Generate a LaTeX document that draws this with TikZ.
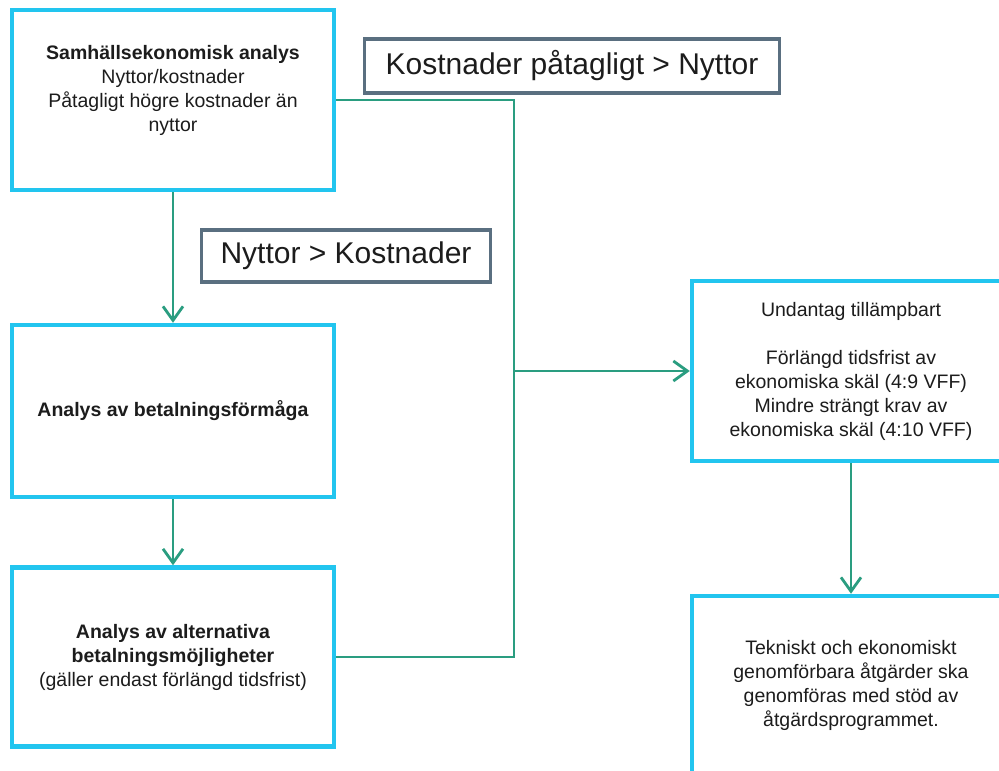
\documentclass[tikz,border=0pt]{standalone}
\usepackage{fontspec}
\setmainfont{Liberation Sans}
\usetikzlibrary{arrows.meta}
\definecolor{boxcyan}{HTML}{22C5EF}
\definecolor{flowgreen}{HTML}{2A9D80}
\definecolor{tagslate}{HTML}{5A6F80}
\definecolor{inkgray}{HTML}{1C1C1C}

\begin{document}
\begin{tikzpicture}[x=1pt,y=-1pt,
                    box/.style={rectangle,draw=boxcyan,line width=4.5pt,fill=white,align=center,
                                text=inkgray,font=\fontsize{19.5}{24}\selectfont,inner sep=0pt},
                    tag/.style={rectangle,draw=tagslate,line width=3.5pt,fill=white,
                                text=inkgray,font=\fontsize{30}{36}\selectfont,inner sep=0pt},
                    flow/.style={draw=flowgreen,line width=2.8pt},
                    >={Straight Barb[length=14pt,width=20pt]}]
    \clip (0,0) rectangle (999,771);
    \fill [white] (0,0) rectangle (999,771);
    % left column
    \node (samh) at (173,100) [box,minimum width=322pt,minimum height=180pt]
          {\textbf{Samhällsekonomisk analys}\\Nyttor/kostnader\\Påtagligt högre kostnader än\\nyttor\\ ~};
    \node (betal) at (173,411) [box,minimum width=322pt,minimum height=172pt]
          {\textbf{Analys av betalningsförmåga}};
    \node (alt) at (173,657) [box,minimum width=322pt,minimum height=179pt]
          {\textbf{Analys av alternativa}\\\textbf{betalningsmöjligheter}\\(gäller endast förlängd tidsfrist)};
    % right column
    \node (undantag) at (851,371) [box,minimum width=318pt,minimum height=180pt]
          {Undantag tillämpbart\\[24pt]Förlängd tidsfrist av\\ekonomiska skäl (4:9 VFF)\\Mindre strängt krav av\\ekonomiska skäl (4:10 VFF)};
    \node (tekn) at (851,685) [box,minimum width=318pt,minimum height=178pt]
          {Tekniskt och ekonomiskt\\genomförbara åtgärder ska\\genomföras med stöd av\\åtgärdsprogrammet.};
    % decisions
    \node (merkost) at (572,66) [tag,minimum width=415pt,minimum height=54pt] {Kostnader påtagligt > Nyttor};
    \node (mernytta) at (346,256) [tag,minimum width=289pt,minimum height=52pt] {Nyttor > Kostnader};
    \coordinate (jn) at (514,371);

    \draw [flow,->] (samh) to (betal);
    \draw [flow,->] (betal) to (alt);
    \draw [flow] (samh.east) -| (jn);
    \draw [flow] (alt.east) -| (jn);
    \draw [flow,->] (jn) to (undantag.west);
    \draw [flow,->] (undantag.south) to (tekn.north);
\end{tikzpicture}
\end{document}
